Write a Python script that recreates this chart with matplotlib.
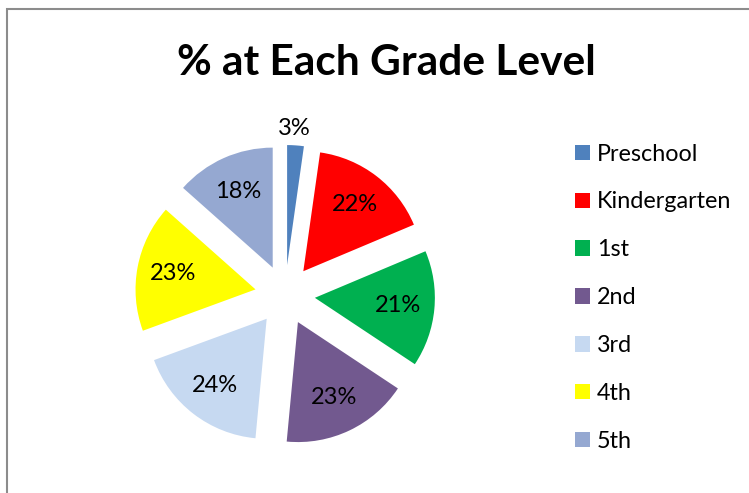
import matplotlib
matplotlib.use("Agg")
import matplotlib.pyplot as plt
from matplotlib.patches import Rectangle

# data (labels are the raw values, pie normalises them)
grades = ["Preschool", "Kindergarten", "1st", "2nd", "3rd", "4th", "5th"]
values = [3, 22, 21, 23, 24, 23, 18]
colors = ["#4F81BD", "#FF0000", "#00B050", "#72598F", "#C6D9F1", "#FFFF00", "#95A8D1"]

plt.rcParams["font.family"] = ["Lato", "DejaVu Sans"]

W, H = 749, 493
fig = plt.figure(figsize=(W / 100, H / 100), dpi=100)

# pie centre at (285, 295) px, radius 120 px -> 1 data unit = 120 px
cx, cy, R = 285, H - 295, 120
lim = 1.6
ax = fig.add_axes([(cx - lim * R) / W, (cy - lim * R) / H, 2 * lim * R / W, 2 * lim * R / H])
ax.set_aspect("equal")
ax.axis("off")

total = sum(values)
wedges, texts, autotexts = ax.pie(
    values, colors=colors, startangle=90, counterclock=False,
    explode=[0.25] * len(values), radius=1.0, pctdistance=0.7,
    autopct=lambda p: f"{p * total / 100:.0f}%",
    textprops=dict(fontsize=17, color="black"),
    wedgeprops=dict(linewidth=0),
)
ax.set_xlim(-lim, lim)
ax.set_ylim(-lim, lim)
for t in autotexts:
    t.set_clip_on(False)
# small slice label sits outside, as Excel places it
autotexts[0].set_position((0.08, 1.39))

fig.text(386 / W, 1 - 63 / H, "% at Each Grade Level", ha="center", va="center",
         fontsize=30.5, fontweight="bold")

# legend
handles = [Rectangle((0, 0), 1, 1, facecolor=c, edgecolor="none") for c in colors]
fig.legend(handles, grades, loc="upper left", bbox_to_anchor=(563 / W, 1 - 132 / H),
           frameon=False, fontsize=16.8, handlelength=0.65, handleheight=0.65,
           handletextpad=0.3, labelspacing=1.15, borderpad=0)

# chart border (only left and top visible in the crop)
fig.add_artist(Rectangle((7 / W, -0.1), 1.2, 1 - 9 / H + 0.1, transform=fig.transFigure,
                         facecolor="none", edgecolor="#8C8C8C", linewidth=1.5))

fig.savefig("out.png", dpi=100)
